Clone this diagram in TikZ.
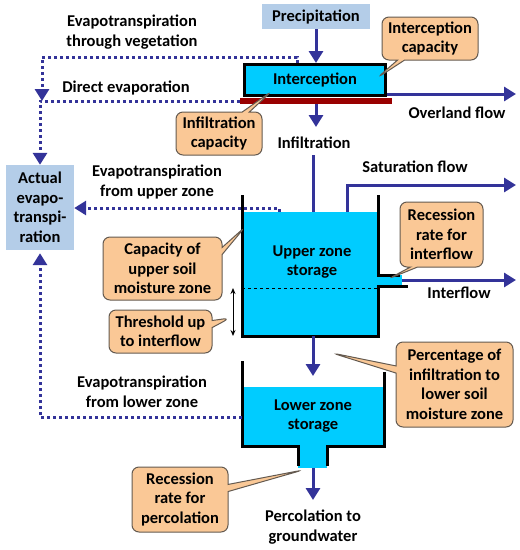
\documentclass[tikz,border=0pt]{standalone}
\usepackage{fontspec}
\setmainfont{Carlito}
\usetikzlibrary{arrows.meta,shapes.callouts}
\definecolor{flowblue}{RGB}{51,51,153}
\definecolor{boxblue}{RGB}{180,205,232}
\definecolor{water}{RGB}{0,204,255}
\definecolor{barred}{RGB}{153,0,0}
\definecolor{calfill}{RGB}{250,200,150}
\definecolor{caldraw}{RGB}{100,90,80}
\begin{document}
\begin{tikzpicture}[x=1pt,y=-1pt,
  font=\fontsize{16.5}{19.5}\selectfont\bfseries,
  flow/.style={draw=flowblue,line width=3pt,-{Triangle[length=12pt,width=14pt]}},
  flowline/.style={draw=flowblue,line width=3pt},
  evap/.style={draw=flowblue,line width=3pt,dash pattern=on 3pt off 3pt,-{Triangle[length=12pt,width=14pt]}},
  evapline/.style={draw=flowblue,line width=3pt,dash pattern=on 3pt off 3pt},
  wall/.style={draw=black,line width=3pt},
  lbl/.style={align=center,inner sep=0pt},
  bluebox/.style={fill=boxblue,align=center,inner sep=0pt},
  callout/.style={rectangle callout,fill=calfill,draw=caldraw,line width=1pt,rounded corners=7pt,align=center,inner sep=0pt}]
\useasboundingbox (0,0) rectangle (520,550);

% ---- water in tanks
\fill[water] (242,212) rectangle (378,336);
\fill[water] (378,275) rectangle (402,286);
\fill[water] (242,387) rectangle (384,446);
\fill[water] (298,446) rectangle (327,468);
\draw[dashed,line width=0.8pt] (242,288) -- (378,288);

% ---- coordinates
\coordinate (usurf) at (313,212);
\coordinate (ubot) at (313,336);
\coordinate (ltop) at (313,376);
\coordinate (lout) at (313,468);
\coordinate (perc) at (313,500);
\coordinate (satstart) at (347,212);
\coordinate (satend) at (516,185);
\coordinate (iflstart) at (402,280);
\coordinate (iflend) at (516,280);
\coordinate (uevap) at (279,212);
\coordinate (levap) at (242,417);
\coordinate (vegstart) at (297,63);
\coordinate (thrtop) at (233,288);
\coordinate (thrbot) at (233,336);

% ---- tank walls
\draw[wall] (242,195) -- (242,336) -- (378,336) -- (378,286) -- (408,286);
\draw[wall] (400,275) -- (378,275) -- (378,195);
\draw[wall] (242,361) -- (242,446) -- (298,446) -- (298,466);
\draw[wall] (327,466) -- (327,446) -- (384,446) -- (384,372);

% ---- nodes
\node[bluebox,minimum width=108pt,minimum height=25pt] (precip) at (316,16.5) {Precipitation};
\node[draw=black,line width=3pt,fill=water,minimum width=141pt,minimum height=31pt,inner sep=0pt] (intc) at (315,80) {Interception};
\node[fill=barred,minimum width=152pt,minimum height=6pt,inner sep=0pt] (bar) at (316,101) {};
\node[bluebox,minimum width=68pt,minimum height=85pt] (actual) at (40,207.5) {Actual\\evapo-\\transpi-\\ration};

\node[lbl] (infl) at (314,143) {Infiltration};
\node[lbl] (overland) at (457,113) {Overland flow};
\node[lbl] (satl) at (415,167) {Saturation flow};
\node[lbl] (ifll) at (459,293) {Interflow};
\node[lbl] (uzs) at (312,262) {Upper zone\\storage};
\node[lbl] (lzs) at (313,416) {Lower zone\\storage};
\node[lbl] (percl) at (313,527) {Percolation to\\groundwater};
\node[lbl] (vegl) at (132,32) {Evapotranspiration\\through vegetation};
\node[lbl] (dirl) at (126,88) {Direct evaporation};
\node[lbl] (upl) at (157,182) {Evapotranspiration\\from upper zone};
\node[lbl] (lowl) at (142,392) {Evapotranspiration\\from lower zone};

% ---- flows
\draw[flow] (precip.south) -- (precip.south |- intc.north);
\coordinate (inflarrow) at (316,127);
\draw[flow] (bar.south -| inflarrow) -- (inflarrow);
\draw[flow] (intc.south east) ++(0,-3) coordinate (ovs) -- (ovs -| satend);
\draw[flowline] (usurf |- infl.south) ++(0,6) -- (usurf);
\draw[flow] (ubot) -- (ltop);
\draw[flow] (lout) -- (perc);
\draw[flow] (satstart) -- (satstart |- satend) -- (satend);
\draw[flow] (iflstart) -- (iflend);

% ---- evaporation (dotted)
\draw[evap] (vegstart) -- ++(0,-6) -| (42,101);
\draw[evap] (bar.west) -- (40,101) -- (actual.north);
\draw[evap] (uevap) -- ++(0,-4) -- (actual.east |- 0,208);
\draw[evap] (levap) -- (40,417) -- ([yshift=-3pt]actual.south);

% ---- threshold
\draw[{Stealth[length=6pt,width=5pt]}-{Stealth[length=6pt,width=5pt]},line width=1pt] (thrtop) -- (thrbot);

% ---- callouts
\node[callout,minimum width=96pt,minimum height=43pt,callout absolute pointer={(377,78)}] (cint) at (430,38.5) {Interception\\capacity};
\node[callout,minimum width=86pt,minimum height=43pt,callout absolute pointer={(272,91)}] (cinf) at (219,133.5) {Infiltration\\capacity};
\node[callout,minimum width=119pt,minimum height=63pt,callout absolute pointer={(245,227)}] (ccap) at (162.5,268.5) {Capacity of\\upper soil\\moisture zone};
\node[callout,minimum width=103pt,minimum height=43pt,callout absolute pointer={(230,318)}] (cthr) at (160.5,331.5) {Threshold up\\to interflow};
\node[callout,minimum width=83pt,minimum height=65pt,callout absolute pointer={(388,279)}] (crif) at (441.5,234.5) {Recession\\rate for\\interflow};
\node[callout,minimum width=117pt,minimum height=85pt,callout absolute pointer={(332,353)}] (cpct) at (454.5,384.5) {Percentage of\\infiltration to\\lower soil\\moisture zone};
\node[callout,minimum width=96pt,minimum height=65pt,callout absolute pointer={(303,470)}] (crpc) at (180,499.5) {Recession\\rate for\\percolation};
\end{tikzpicture}
\end{document}
